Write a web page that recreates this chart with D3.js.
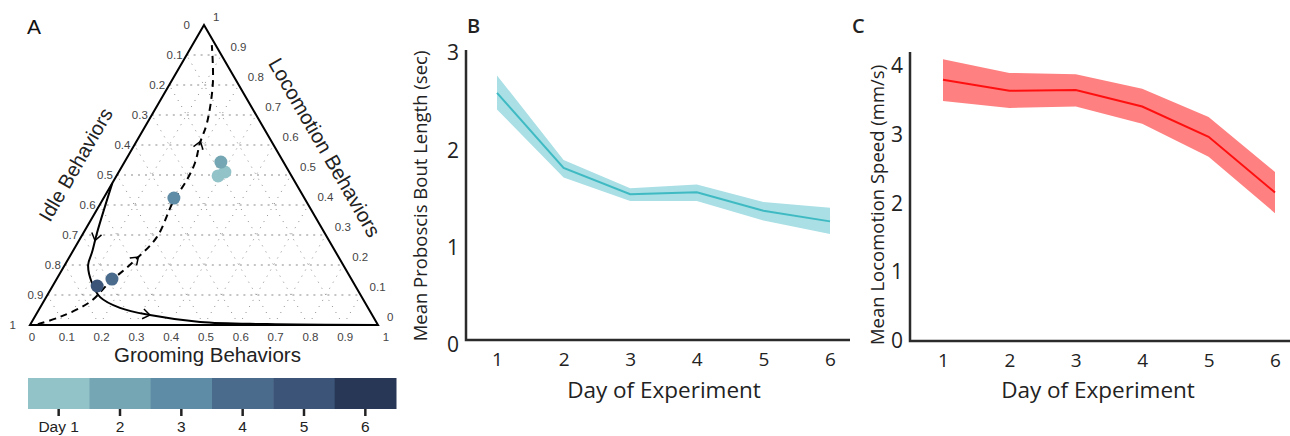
<!DOCTYPE html>
<meta charset="utf-8">
<style>
body { margin: 0; background: #fff; }
.tern text { font-family: "Liberation Sans", Arial, sans-serif; }
.line-panel text { font-family: "Open Sans", sans-serif; fill: #222; }
</style>
<body>
<script src="https://d3js.org/d3.v7.min.js"></script>
<script>

var width = 1290,
    height = 436;

// ---- data ----
var days = [1, 2, 3, 4, 5, 6];
var dayColors = ["#91c3c8", "#74a6b3", "#5e8ba6", "#4b6b8c", "#3b5478", "#293756"];

// ternary points (grooming, locomotion); idle = 1 - g - l
var ptDay = [1, 1, 2, 3, 4, 5];
var ptGroom = [0.292, 0.305, 0.277, 0.202, 0.159, 0.128];
var ptLoco = [0.497, 0.510, 0.543, 0.423, 0.153, 0.130];

// trajectories in (grooming, locomotion)
var dashedTraj = [[0.021, 0.003], [0.073, 0.027], [0.134, 0.077], [0.158, 0.143], [0.191, 0.21],
  [0.218, 0.293], [0.206, 0.41], [0.209, 0.483], [0.204, 0.54], [0.185, 0.607],
  [0.172, 0.673], [0.122, 0.807], [0.056, 0.933]];
var solidTraj = [[0, 0.473], [0.039, 0.307], [0.057, 0.243], [0.067, 0.2], [0.108, 0.14],
  [0.155, 0.093], [0.23, 0.057], [0.328, 0.033], [0.484, 0.01], [0.679, 0.003], [1, 0]];
var dashedArrows = [[0.204, 0.223], [0.186, 0.61]];
var solidArrows = [[0.039, 0.283], [0.328, 0.033]];

var ternTicks = [0, 0.1, 0.2, 0.3, 0.4, 0.5, 0.6, 0.7, 0.8, 0.9, 1];

// panel B
var boutMean = [2.59, 1.82, 1.55, 1.57, 1.38, 1.27];
var boutLow = [2.42, 1.72, 1.48, 1.48, 1.28, 1.14];
var boutHigh = [2.77, 1.90, 1.61, 1.65, 1.47, 1.41];

// panel C
var speedMean = [3.80, 3.64, 3.65, 3.41, 2.97, 2.16];
var speedLow = [3.49, 3.39, 3.41, 3.16, 2.68, 1.86];
var speedHigh = [4.10, 3.90, 3.88, 3.67, 3.26, 2.46];

var svg = d3.select("body").append("svg")
    .attr("width", width)
    .attr("height", height);

var ARIAL = "Liberation Sans, Arial, sans-serif";

// ================= Panel A : ternary =================
var gx = d3.scaleLinear().domain([0, 1]).range([30, 378]);
var ly = d3.scaleLinear().domain([0, 1]).range([325, 25]);
function tern(g, l) { return [gx(g + l / 2), ly(l)]; }

var A = svg.append("g").attr("class", "tern").attr("font-family", ARIAL);

// grid
var grid = A.append("g");
ternTicks.slice(1, 10).forEach(function(k) {
  // constant locomotion (horizontal)
  grid.append("path")
    .attr("d", "M" + tern(0, k) + "L" + tern(1 - k, k))
    .attr("stroke", "#8a8a8a").attr("stroke-width", 1)
    .attr("stroke-dasharray", "2,5").attr("fill", "none");
  // constant grooming
  grid.append("path")
    .attr("d", "M" + tern(k, 0) + "L" + tern(k, 1 - k))
    .attr("stroke", "#8a8a8a").attr("stroke-width", 1)
    .attr("stroke-dasharray", "1,6").attr("fill", "none");
  // constant idle
  grid.append("path")
    .attr("d", "M" + tern(1 - k, 0) + "L" + tern(0, 1 - k))
    .attr("stroke", "#8a8a8a").attr("stroke-width", 1)
    .attr("stroke-dasharray", "1,6").attr("fill", "none");
});

// triangle border
A.append("path")
  .attr("d", "M" + tern(0, 0) + "L" + tern(1, 0) + "L" + tern(0, 1) + "Z")
  .attr("fill", "none").attr("stroke", "#000").attr("stroke-width", 2)
  .attr("stroke-linejoin", "miter");

// tick labels
ternTicks.forEach(function(k) {
  var end = (k === 0 || k === 1);
  // idle (left side): idle = k -> g=0, l=1-k
  var p = tern(0, 1 - k);
  A.append("text")
    .attr("x", p[0] - (end ? 14 : 4)).attr("y", p[1] + 4)
    .attr("text-anchor", "end").attr("font-size", 11.5).attr("fill", "#444")
    .text(d3.format("~g")(k));
  // locomotion (right side)
  var q = tern(1 - k, k);
  A.append("text")
    .attr("x", q[0] + 9).attr("y", q[1] - 4)
    .attr("text-anchor", "start").attr("font-size", 11.5).attr("fill", "#444")
    .text(d3.format("~g")(k));
  // grooming (bottom)
  var r = tern(k, 0);
  A.append("text")
    .attr("x", r[0] + (k === 1 ? 8 : 2)).attr("y", r[1] + 16)
    .attr("text-anchor", "middle").attr("font-size", 11.5).attr("fill", "#444")
    .text(d3.format("~g")(k));
});

// axis titles
A.append("text")
  .attr("x", gx(0.51)).attr("y", 362)
  .attr("text-anchor", "middle").attr("font-size", 20.5).attr("fill", "#222")
  .text("Grooming Behaviors");
var lc = tern(0, 0.47);
A.append("text")
  .attr("transform", "translate(" + (lc[0] - 30) + "," + (lc[1] - 16) + ") rotate(-60)")
  .attr("text-anchor", "middle").attr("font-size", 20).attr("fill", "#222")
  .text("Idle Behaviors");
var rc = tern(0.48, 0.52);
A.append("text")
  .attr("transform", "translate(" + (rc[0] + 31) + "," + (rc[1] - 18) + ") rotate(60)")
  .attr("text-anchor", "middle").attr("font-size", 20.5).attr("fill", "#222")
  .text("Locomotion Behaviors");

// trajectories
var ternLine = d3.line()
  .x(function(d) { return tern(d[0], d[1])[0]; })
  .y(function(d) { return tern(d[0], d[1])[1]; })
  .curve(d3.curveCatmullRom.alpha(0.5));

function drawTraj(data, dash, arrows) {
  var path = A.append("path")
    .attr("d", ternLine(data))
    .attr("fill", "none").attr("stroke", "#000").attr("stroke-width", 2)
    .attr("stroke-dasharray", dash);
  var node = path.node(), total = node.getTotalLength();
  arrows.forEach(function(a) {
    var t = tern(a[0], a[1]), best = 0, bd = Infinity;
    for (var s = 0; s <= total; s += 1) {
      var pt = node.getPointAtLength(s);
      var dd = (pt.x - t[0]) * (pt.x - t[0]) + (pt.y - t[1]) * (pt.y - t[1]);
      if (dd < bd) { bd = dd; best = s; }
    }
    var p0 = node.getPointAtLength(Math.max(0, best - 2)),
        p1 = node.getPointAtLength(Math.min(total, best + 2));
    var ang = Math.atan2(p1.y - p0.y, p1.x - p0.x) * 180 / Math.PI;
    var c = node.getPointAtLength(best);
    A.append("path")
      .attr("d", "M-7,-5L0,0L-7,5")
      .attr("transform", "translate(" + c.x + "," + c.y + ") rotate(" + ang + ")")
      .attr("fill", "none").attr("stroke", "#000").attr("stroke-width", 1.5);
  });
}
drawTraj(dashedTraj, "7,5", dashedArrows);
drawTraj(solidTraj, null, solidArrows);

// points
A.append("g").selectAll("circle")
  .data(ptDay)
  .enter()
  .append("circle")
  .attr("cx", function(d, i) { return tern(ptGroom[i], ptLoco[i])[0]; })
  .attr("cy", function(d, i) { return tern(ptGroom[i], ptLoco[i])[1]; })
  .attr("r", 6.5)
  .attr("fill", function(d) { return dayColors[d - 1]; });

// panel label
A.append("text").attr("x", 27).attr("y", 34)
  .attr("font-size", 21).attr("fill", "#111").text("A");

// colour bar
var cb = d3.scaleBand().domain(days).range([28, 396]).padding(0);
var bar = A.append("g");
bar.selectAll("rect")
  .data(days)
  .enter()
  .append("rect")
  .attr("x", function(d) { return cb(d); })
  .attr("y", 378)
  .attr("width", cb.bandwidth() + 0.5)
  .attr("height", 31)
  .attr("fill", function(d, i) { return dayColors[i]; });
bar.selectAll("line")
  .data(days)
  .enter()
  .append("line")
  .attr("x1", function(d) { return cb(d) + cb.bandwidth() / 2; })
  .attr("x2", function(d) { return cb(d) + cb.bandwidth() / 2; })
  .attr("y1", 409).attr("y2", 416)
  .attr("stroke", "#222").attr("stroke-width", 2.5);
bar.selectAll("text")
  .data(days)
  .enter()
  .append("text")
  .attr("x", function(d) { return cb(d) + cb.bandwidth() / 2; })
  .attr("y", 432)
  .attr("text-anchor", "middle").attr("font-size", 15.5).attr("fill", "#222")
  .text(function(d) { return d === 1 ? "Day 1" : d; });

// ================= Panels B and C =================
function linePanel(opt) {
  var g = svg.append("g").attr("class", "line-panel");
  var x = d3.scaleLinear().domain([1, 6]).range(opt.xr);
  var y = d3.scaleLinear().domain([0, opt.ymax]).range(opt.yr);

  var area = d3.area()
    .x(function(d, i) { return x(days[i]); })
    .y0(function(d, i) { return y(opt.low[i]); })
    .y1(function(d, i) { return y(opt.high[i]); });
  g.append("path").datum(opt.mean)
    .attr("d", area).attr("fill", opt.band);

  var line = d3.line()
    .x(function(d, i) { return x(days[i]); })
    .y(function(d) { return y(d); });
  g.append("path").datum(opt.mean)
    .attr("d", line).attr("fill", "none")
    .attr("stroke", opt.color).attr("stroke-width", 2);

  // frame
  g.append("path")
    .attr("d", "M" + opt.ax + "," + opt.top + "L" + opt.ax + "," + opt.base + "L" + opt.right + "," + opt.base)
    .attr("fill", "none").attr("stroke", "#2b2b2b").attr("stroke-width", 2.5);

  var yAxis = g.append("g")
    .attr("transform", "translate(" + opt.ax + ",0)")
    .call(d3.axisLeft(y).tickValues(d3.range(0, opt.ymax + 1)).tickSize(0).tickPadding(7).tickFormat(d3.format("d")));
  yAxis.select(".domain").remove();
  yAxis.selectAll("text").attr("font-size", 21).attr("font-family", "Open Sans, sans-serif").attr("fill", "#222");

  var xAxis = g.append("g")
    .attr("transform", "translate(0," + opt.base + ")")
    .call(d3.axisBottom(x).tickValues(days).tickSize(0).tickPadding(13).tickFormat(d3.format("d")));
  xAxis.select(".domain").remove();
  xAxis.selectAll("text").attr("font-size", 19).attr("font-family", "Open Sans, sans-serif").attr("fill", "#222");

  g.append("text")
    .attr("x", opt.xtx).attr("y", 398)
    .attr("text-anchor", "middle").attr("font-size", 22.5)
    .text("Day of Experiment");
  g.append("text")
    .attr("transform", "translate(" + opt.ytx + "," + opt.yty + ") rotate(-90)")
    .attr("text-anchor", "middle").attr("font-size", 18.5)
    .text(opt.ylabel);
  g.append("text")
    .attr("x", opt.lx).attr("y", 33)
    .attr("font-size", 20).attr("font-weight", 600)
    .text(opt.letter);
}

linePanel({
  xr: [497, 830], yr: [345, 53], ymax: 3,
  ax: 466, top: 50, base: 340, right: 850,
  mean: boutMean, low: boutLow, high: boutHigh,
  color: "#3fbac3", band: "#a9dfe5",
  xtx: 664, ytx: 427, yty: 196,
  ylabel: "Mean Proboscis Bout Length (sec)",
  letter: "B", lx: 467
});

linePanel({
  xr: [943, 1275], yr: [341, 66], ymax: 4,
  ax: 910, top: 52, base: 341, right: 1290,
  mean: speedMean, low: speedLow, high: speedHigh,
  color: "#ff1010", band: "#ff8080",
  xtx: 1098, ytx: 884, yty: 205,
  ylabel: "Mean Locomotion Speed (mm/s)",
  letter: "C", lx: 852
});

</script>
</body>
